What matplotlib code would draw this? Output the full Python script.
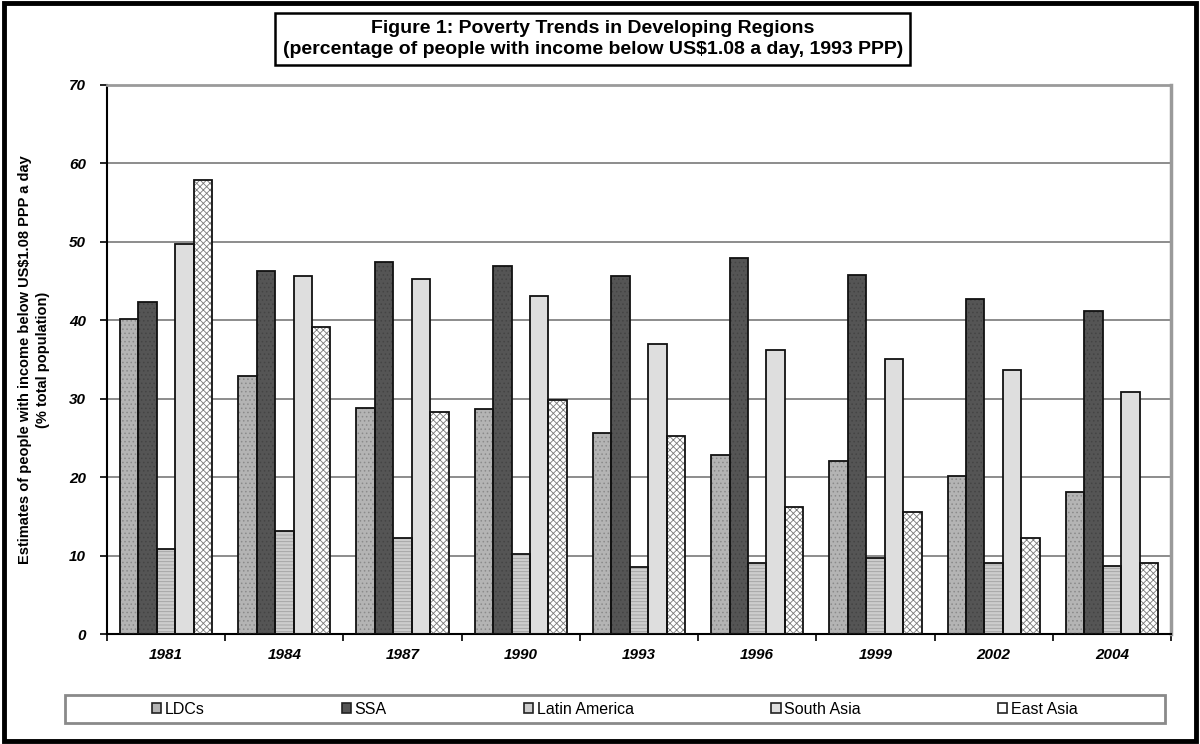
import numpy as np
import matplotlib.pyplot as plt
from matplotlib.patches import Rectangle, Patch

plt.rcParams['font.family'] = ['Liberation Sans', 'DejaVu Sans']
plt.rcParams['hatch.linewidth'] = 0.6

years = ['1981', '1984', '1987', '1990', '1993', '1996', '1999', '2002', '2004']
ldcs = [40.2, 32.9, 28.8, 28.7, 25.6, 22.8, 22.1, 20.1, 18.1]
ssa = [42.3, 46.3, 47.4, 46.9, 45.6, 47.9, 45.8, 42.7, 41.2]
latin_america = [10.8, 13.1, 12.2, 10.2, 8.5, 9.0, 9.7, 9.1, 8.7]
south_asia = [49.7, 45.6, 45.3, 43.1, 37.0, 36.2, 35.1, 33.6, 30.8]
east_asia = [57.9, 39.2, 28.3, 29.8, 25.2, 16.2, 15.5, 12.3, 9.0]

series = [
    ('LDCs', ldcs, '#b4b4b4', '....', '#8a8a8a'),
    ('SSA', ssa, '#555555', '....', '#444444'),
    ('Latin America', latin_america, '#cdcdcd', '-----', '#a0a0a0'),
    ('South Asia', south_asia, '#dedede', '', '#dedede'),
    ('East Asia', east_asia, '#ffffff', 'xxxxx', '#7a7a7a'),
]

fig = plt.figure(figsize=(12, 7.44), dpi=100)

# outer frame around the whole figure
fig.patches.append(Rectangle((0.003, 0.004), 0.994, 0.992, transform=fig.transFigure,
                             fill=False, edgecolor='black', linewidth=3.5))

ax = fig.add_axes([0.0892, 0.1478, 0.8866, 0.738])

x = np.arange(len(years))
width = 0.156
handles = []
for i, (name, vals, fc, hatch, hc) in enumerate(series):
    offs = (i - 2) * width
    # background fill plus hatch overlay for a printed-pattern look
    ax.bar(x + offs, vals, width, color=fc, edgecolor='none', zorder=2)
    ax.bar(x + offs, vals, width, color='none', edgecolor=hc, hatch=hatch,
           linewidth=0, zorder=3)
    ax.bar(x + offs, vals, width, color='none', edgecolor='#111111',
           linewidth=1.3, zorder=4)
    handles.append(Patch(facecolor=fc, edgecolor='#222222', linewidth=1.2, label=name))

ax.set_xlim(-0.5, len(years) - 0.5)
ax.set_ylim(0, 70)
ax.set_yticks(range(0, 71, 10))
ax.set_yticklabels([str(v) for v in range(0, 71, 10)], fontweight='bold',
                   fontstyle='italic', fontsize=11)
ax.set_xticks(x)
ax.set_xticklabels(years, fontweight='bold', fontstyle='italic', fontsize=11)
ax.set_xticks(np.arange(-0.5, len(years)), minor=True)
ax.tick_params(axis='x', which='major', length=0, pad=10)
ax.tick_params(axis='x', which='minor', length=5, width=1.2, direction='out')
ax.tick_params(axis='y', length=5, width=1.2, direction='out', pad=10)

ax.yaxis.grid(True, color='#8c8c8c', linewidth=1.4, zorder=0)
ax.set_axisbelow(True)

ax.spines['left'].set_linewidth(1.5)
ax.spines['bottom'].set_linewidth(1.5)
ax.spines['top'].set_color('#9a9a9a')
ax.spines['top'].set_linewidth(2)
ax.spines['right'].set_color('#9a9a9a')
ax.spines['right'].set_linewidth(2.5)

ax.set_ylabel('Estimates of people with income below US\\$1.08 PPP a day\n(% total population)',
              fontweight='bold', fontsize=10.5, labelpad=14, linespacing=1.3)

# title box
fig.text(0.494, 0.9476,
         'Figure 1: Poverty Trends in Developing Regions\n'
         '(percentage of people with income below US\\$1.08 a day, 1993 PPP)',
         ha='center', va='center', fontsize=14, fontweight='bold', linespacing=1.3,
         bbox=dict(boxstyle='square,pad=0.38', facecolor='white', edgecolor='black',
                   linewidth=1.8))

# legend frame along the bottom, entries spread inside it
fig.patches.append(Rectangle((65 / 1200, 1 - 723 / 744), 1100 / 1200, 28 / 744,
                             transform=fig.transFigure, facecolor='white',
                             edgecolor='#8a8a8a', linewidth=2))
leg = fig.legend(handles=handles, loc='center', bbox_to_anchor=(0.512, 1 - 709 / 744),
                 ncol=5, frameon=False, handlelength=0.6, handleheight=0.6,
                 handletextpad=0.2, columnspacing=8.6, borderpad=0, borderaxespad=0,
                 prop={'family': ['Liberation Sans Narrow', 'Liberation Sans'], 'size': 11.5})

fig.savefig('out.png', dpi=100)
